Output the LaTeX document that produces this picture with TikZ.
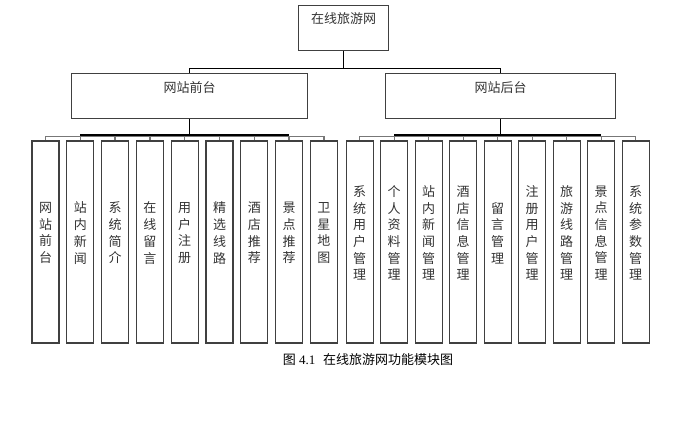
\documentclass[tikz,border=0pt]{standalone}
\usepackage{fontspec}
\setmainfont{Liberation Serif}
\newfontfamily\cjk{Noto Sans CJK SC}
\definecolor{boxline}{HTML}{404040}
\definecolor{txt}{HTML}{333333}
\definecolor{busgray}{HTML}{777777}
\begin{document}
\begin{tikzpicture}[x=1pt,y=-1pt,
  box/.style={draw=boxline, line width=1.3pt, inner sep=0pt, anchor=north west, text=txt},
  topbox/.style={box, minimum width=90pt, minimum height=45pt, font=\cjk\fontsize{13}{16}\selectfont, text height=17.7pt, text depth=27.3pt},
  midbox/.style={box, minimum width=236pt, minimum height=45pt, font=\cjk\fontsize{13}{16}\selectfont, text height=18.7pt, text depth=26.3pt},
  childbox/.style={draw=boxline, line width=1.3pt, inner sep=0pt, minimum width=27pt, minimum height=202pt},
  vtext/.style={align=center, inner sep=0pt, text=txt, font=\cjk\fontsize{13}{16.7}\selectfont},
  conn/.style={draw=black, line width=1pt},
  bus/.style={draw=busgray, line width=1.4pt},
  busdark/.style={draw=black, line width=1.6pt}
]
\useasboundingbox (0,0) rectangle (692,434);

\node[topbox] (top) at (298,5) {在线旅游网};
\node[midbox] (front) at (71,73) {网站前台};
\node[midbox, minimum width=230pt] (back) at (385,73) {网站后台};

\draw[conn] (top.south) -- ++(0,17) -| (front.north);
\draw[conn] (top.south) -- ++(0,17) -| (back.north);

% front children
\foreach \i/\t in {0/网\\站\\前\\台, 1/站\\内\\新\\闻, 2/系\\统\\简\\介, 3/在\\线\\留\\言, 4/用\\户\\注\\册, 5/精\\选\\线\\路, 6/酒\\店\\推\\荐, 7/景\\点\\推\\荐, 8/卫\\星\\地\\图}{
  \node[childbox] (f\i) at ({45.5+34.8*\i},242) {};
  \node[vtext] (ft\i) at ({45.5+34.8*\i},233) {\t};
  \draw[bus] (front.south) -- ++(0,17) -| (f\i.north);
}
% back children
\foreach \i/\t in {0/系\\统\\用\\户\\管\\理, 1/个\\人\\资\\料\\管\\理, 2/站\\内\\新\\闻\\管\\理, 3/酒\\店\\信\\息\\管\\理, 4/留\\言\\管\\理, 5/注\\册\\用\\户\\管\\理, 6/旅\\游\\线\\路\\管\\理, 7/景\\点\\信\\息\\管\\理, 8/系\\统\\参\\数\\管\\理}{
  \node[childbox] (b\i) at ({359.7+34.5*\i},242) {};
  \node[vtext] (bt\i) at ({359.7+34.5*\i},233) {\t};
  \draw[bus] (back.south) -- ++(0,17) -| (b\i.north);
}
% darker inner bus segments and trunks
\draw[busdark] (front.south) -- ++(0,17);
\draw[busdark] (f1.north |- 0,135) -- (f7.north |- 0,135);
\draw[busdark] (back.south) -- ++(0,17);
\draw[busdark] (b1.north |- 0,135) -- (b7.north |- 0,135);

\node[text=black, font=\fontsize{13}{16}\selectfont, inner sep=0pt] (cap) at (368,360) {{\cjk 图} 4.1\hspace{0.6em}{\cjk 在线旅游网功能模块图}};
\end{tikzpicture}
\end{document}
